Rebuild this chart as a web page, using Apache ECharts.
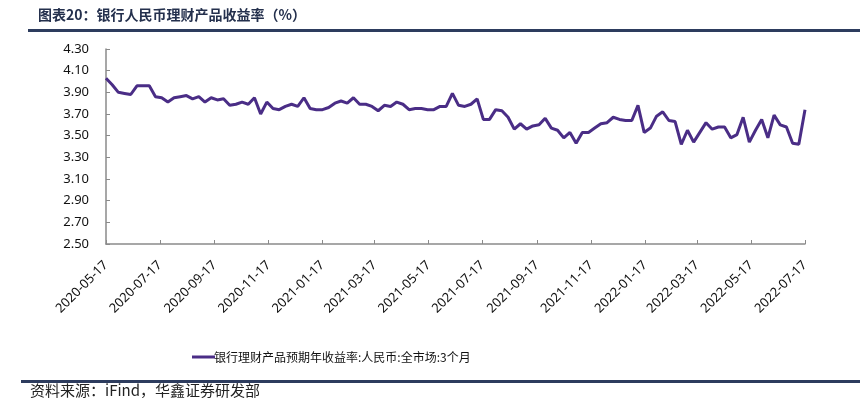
<!DOCTYPE html>
<html>
<head>
<meta charset="utf-8">
<script src="https://cdn.jsdelivr.net/npm/echarts@6/dist/echarts.min.js"></script>
<style>
html,body{margin:0;padding:0;background:#fff;}
#chart{width:860px;height:398px;}
</style>
</head>
<body>
<div id="chart"></div>
<script>
var startDate = '2020-05-17';
var seriesName = '银行理财产品预期年收益率:人民币:全市场:3个月';
var values = [
4.03,3.97,3.90,3.89,3.88,3.96,3.96,3.96,3.86,3.85,
3.81,3.85,3.86,3.87,3.84,3.86,3.81,3.85,3.83,3.84,
3.78,3.79,3.81,3.79,3.85,3.70,3.81,3.75,3.74,3.77,
3.79,3.77,3.85,3.75,3.74,3.74,3.76,3.80,3.82,3.80,
3.85,3.79,3.79,3.77,3.73,3.78,3.77,3.81,3.79,3.74,
3.75,3.75,3.74,3.74,3.77,3.77,3.89,3.78,3.77,3.79,
3.84,3.65,3.65,3.74,3.73,3.67,3.56,3.61,3.56,3.59,
3.60,3.66,3.57,3.55,3.48,3.53,3.43,3.53,3.53,3.57,
3.61,3.62,3.67,3.65,3.64,3.64,3.78,3.53,3.57,3.68,
3.72,3.64,3.63,3.42,3.55,3.44,3.53,3.62,3.56,3.58,
3.58,3.48,3.51,3.67,3.44,3.55,3.65,3.48,3.69,3.60,
3.58,3.43,3.42,3.74
];
var xTickLabels = ['2020-05-17','2020-07-17','2020-09-17','2020-11-17','2021-01-17','2021-03-17','2021-05-17','2021-07-17','2021-09-17','2021-11-17','2022-01-17','2022-03-17','2022-05-17','2022-07-17'];
var yTickLabels = ['2.50','2.70','2.90','3.10','3.30','3.50','3.70','3.90','4.10','4.30'];

var DAY = 86400000;
function utc(s){ var p=s.split('-'); return Date.UTC(+p[0],+p[1]-1,+p[2]); }
var t0 = utc(startDate);
function dayOf(s){ return Math.round((utc(s)-t0)/DAY); }

var data = values.map(function(v,i){ return [7*i, v]; });
var tickDays = xTickLabels.map(dayOf);
var labelByDay = {};
xTickLabels.forEach(function(s,i){ labelByDay[tickDays[i]] = s; });
var yMin = parseFloat(yTickLabels[0]), yMax = parseFloat(yTickLabels[yTickLabels.length-1]);

var chart = echarts.init(document.getElementById('chart'), null, {renderer:'canvas'});
var axisColor = '#8a8a8a';
chart.setOption({
  animation:false,
  backgroundColor:'#fff',
  grid:{left:106,right:55,top:49,bottom:154,containLabel:false},
  xAxis:{
    type:'value',
    min:tickDays[0], max:tickDays[tickDays.length-1],
    axisLine:{show:true,onZero:false,lineStyle:{color:axisColor,width:1.5}},
    axisTick:{show:true,inside:true,length:4,customValues:tickDays,lineStyle:{color:axisColor,width:1}},
    axisLabel:{customValues:tickDays,rotate:45,margin:19,fontSize:13,color:'#111',
      fontFamily:'Noto Sans',showMinLabel:true,showMaxLabel:true,
      formatter:function(v){ var k=Math.round(v); return labelByDay[k]!==undefined?labelByDay[k]:''; }},
    splitLine:{show:false}
  },
  yAxis:{
    type:'value', min:yMin, max:yMax, interval:0.2,
    axisLine:{show:true,lineStyle:{color:axisColor,width:1.5}},
    axisTick:{show:true,inside:true,length:4,lineStyle:{color:axisColor,width:1}},
    axisLabel:{margin:17,fontSize:13,color:'#111',fontFamily:'Noto Sans',
      formatter:function(v){return v.toFixed(2);}},
    splitLine:{show:false}
  },
  legend:{
    show:true, left:187, top:346, itemWidth:23, itemHeight:3, itemGap:10,
    icon:'rect',
    textStyle:{fontSize:12,color:'#111',fontFamily:'Noto Sans CJK SC',padding:[0,0,0,-6]},
    data:[seriesName]
  },
  series:[{
    name:seriesName, type:'line', data:data, showSymbol:false, symbol:'none',
    lineStyle:{color:'#4a2d86',width:3},
    itemStyle:{color:'#4a2d86'}
  }],
  graphic:[
    {type:'text',left:38,top:8,style:{text:'图表20：银行人民币理财产品收益率（%）',fontSize:14,fontWeight:'bold',fill:'#24304d',fontFamily:'Noto Sans CJK SC'}},
    {type:'rect',shape:{x:28,y:29,width:832,height:3},style:{fill:'#2d3c5e'}},
    {type:'rect',shape:{x:21,y:380,width:839,height:3},style:{fill:'#2d3c5e'}},
    {type:'text',left:30,top:383,style:{text:'资料来源：iFind，华鑫证券研发部',fontSize:15,fill:'#222',fontFamily:'Noto Sans CJK SC'}}
  ]
});
</script>
</body>
</html>
